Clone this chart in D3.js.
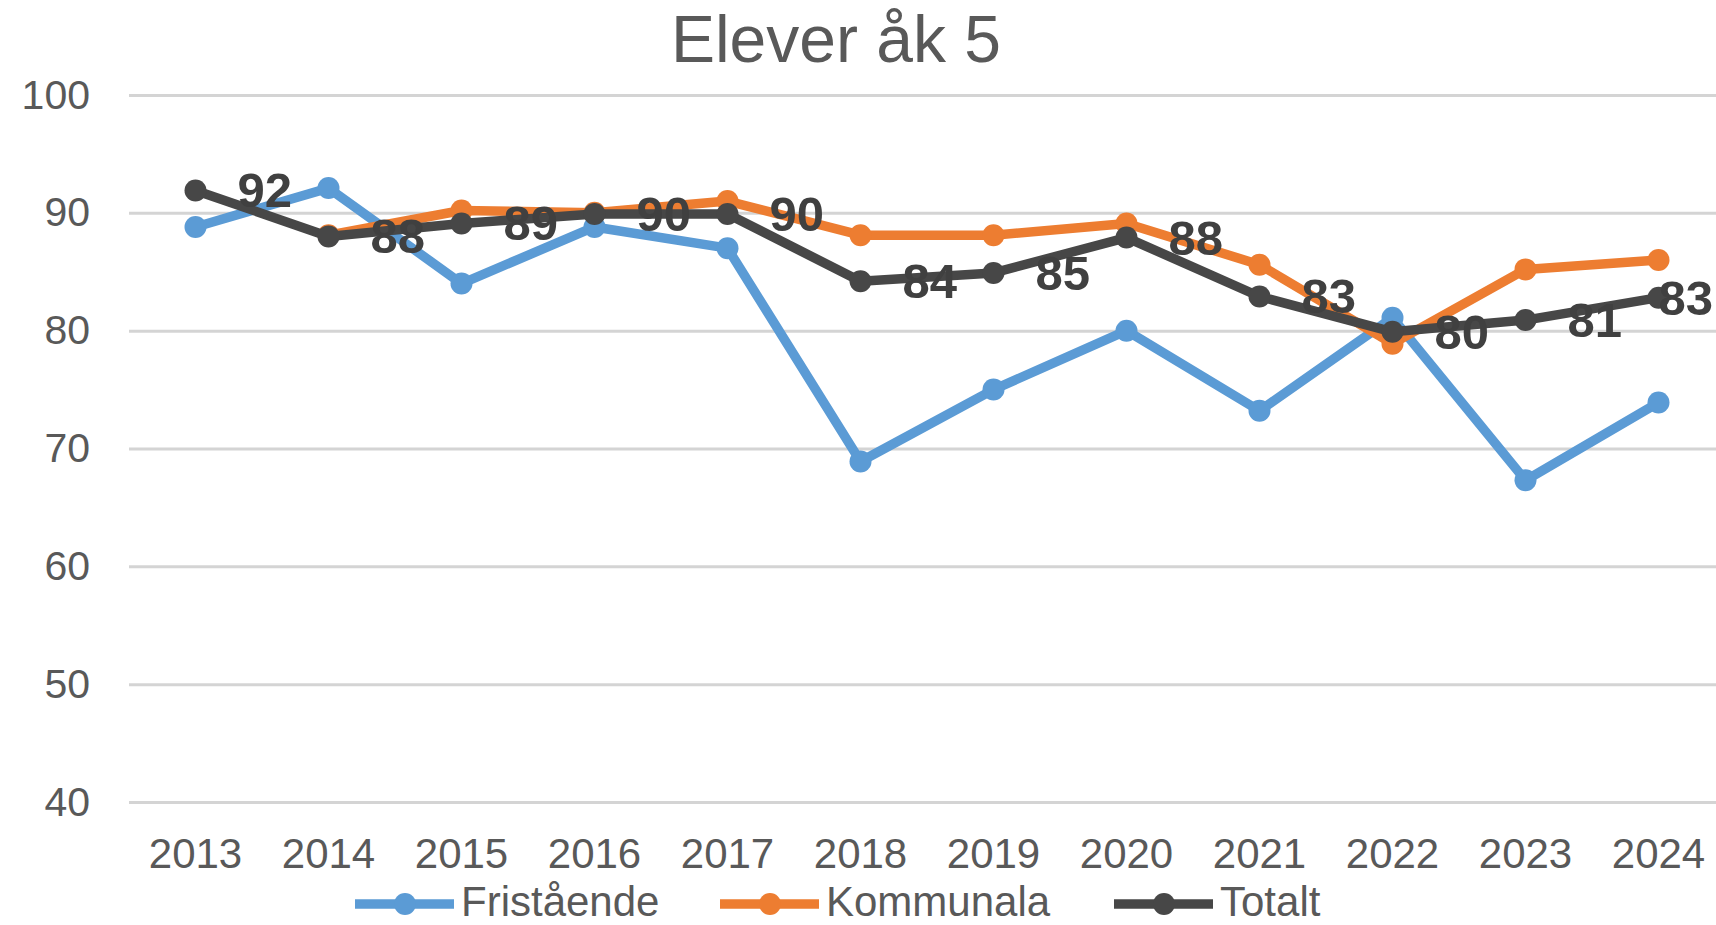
<!DOCTYPE html>
<html>
<head>
<meta charset="utf-8">
<script src="https://cdn.jsdelivr.net/npm/d3@7"></script>
<style>
html,body{margin:0;padding:0;background:#fff;}
svg{display:block;font-family:"Liberation Sans",Arial,sans-serif;}
</style>
</head>
<body>
<svg id="chart" width="1716" height="925"></svg>
<script>
const years = ["2013","2014","2015","2016","2017","2018","2019","2020","2021","2022","2023","2024"];
const fristaende = [88.8, 92.1, 84.0, 88.8, 87.0, 68.9, 75.0, 80.0, 73.2, 81.1, 67.3, 73.9];
const kommunala = [null, 88.1, 90.2, 90.0, 91.0, 88.1, 88.1, 89.1, 85.6, 78.9, 85.2, 86.0];
const totalt = [91.9, 88.0, 89.1, 89.9, 89.9, 84.2, 84.9, 87.9, 82.9, 79.9, 80.9, 82.8];
const totaltLabels = ["92","88","89","90","90","84","85","88","83","80","81","83"];
const yTicks = [40, 50, 60, 70, 80, 90, 100];
const seriesNames = ["Fristående", "Kommunala", "Totalt"];
const seriesColors = ["#5B9BD5", "#ED7D31", "#474747"];
const title = "Elever åk 5";

(function () {
const W = 1716;
const svg = d3.select("#chart");
const mLeft = 129, mRight = 1725, mTop = 95, mBottom = 802;

const x = d3.scaleBand().domain(years).range([mLeft, mRight]);
const y = d3.scaleLinear().domain([40, 100]).range([mBottom, mTop]);
const cx = d => x(d) + x.bandwidth() / 2;

// title
svg.append("text").attr("x", 836).attr("y", 62).attr("text-anchor", "middle")
  .attr("font-size", 66).attr("fill", "#595959").text(title);

// gridlines
const yAxis = d3.axisLeft(y).tickValues(yTicks).tickSize(-(W - mLeft)).tickPadding(39).tickFormat(d3.format("d"));
const gy = svg.append("g").attr("transform", `translate(${mLeft},0)`).call(yAxis);
gy.select(".domain").remove();
gy.selectAll(".tick line").attr("stroke", "#d4d4d4").attr("stroke-width", 3);
gy.selectAll(".tick text").attr("font-size", 41).attr("fill", "#595959")
  .attr("font-family", "Liberation Sans, Arial, sans-serif");

// x axis labels
const xAxis = d3.axisBottom(x).tickSize(0).tickPadding(36);
const gx = svg.append("g").attr("transform", `translate(0,${mBottom})`).call(xAxis);
gx.select(".domain").remove();
gx.selectAll(".tick text").attr("font-size", 42).attr("fill", "#595959")
  .attr("font-family", "Liberation Sans, Arial, sans-serif");

const allSeries = [fristaende, kommunala, totalt];
const line = d3.line().defined(d => d != null).x((d, i) => cx(years[i])).y(d => y(d));

allSeries.forEach((vals, si) => {
  const g = svg.append("g");
  g.append("path").datum(vals).attr("d", line).attr("fill", "none")
    .attr("stroke", seriesColors[si]).attr("stroke-width", 9.5).attr("stroke-linejoin", "round");
  const pts = vals.map((v, i) => ({v, i})).filter(p => p.v != null);
  g.selectAll("circle").data(pts).join("circle")
    .attr("cx", p => cx(years[p.i])).attr("cy", p => y(p.v)).attr("r", 11)
    .attr("fill", seriesColors[si]);
});

// data labels for Totalt
const labels = svg.append("g").selectAll("text").data(totalt).join("text")
  .attr("x", (d, i) => cx(years[i]) + 42).attr("y", d => y(d) + 17)
  .attr("font-size", 49).attr("font-weight", "bold").attr("fill", "#404040")
  .text((d, i) => totaltLabels[i]);
labels.each(function () {
  const bb = this.getBBox();
  if (bb.x + bb.width > W - 3) d3.select(this).attr("x", W - 3 - bb.width);
});

// legend
const legendX = [355, 720, 1114];
const lg = svg.append("g");
seriesNames.forEach((name, i) => {
  const lx = legendX[i], ly = 904;
  lg.append("line").attr("x1", lx).attr("x2", lx + 99).attr("y1", ly).attr("y2", ly)
    .attr("stroke", seriesColors[i]).attr("stroke-width", 9.5);
  lg.append("circle").attr("cx", lx + 50).attr("cy", ly).attr("r", 11).attr("fill", seriesColors[i]);
  lg.append("text").attr("x", lx + 106).attr("y", ly + 12).attr("font-size", 42)
    .attr("fill", "#595959").text(name);
});
})();
</script>
</body>
</html>
